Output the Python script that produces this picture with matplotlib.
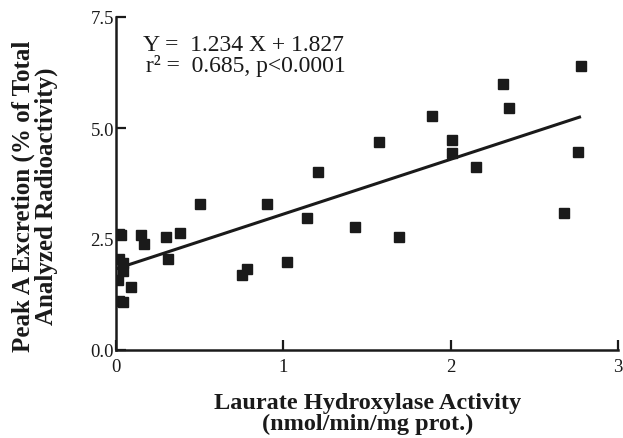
import matplotlib
matplotlib.use("Agg")
import matplotlib.pyplot as plt
import numpy as np

# Data
activity = [0.02, 0.03, 0.02, 0.04, 0.04, 0.01, 0.09, 0.02, 0.04,
            0.15, 0.17, 0.30, 0.38, 0.31,
            0.50, 0.75, 0.78, 0.90, 1.02, 1.14, 1.21, 1.43, 1.57, 1.69,
            1.89, 2.01, 2.01, 2.15, 2.31, 2.35, 2.68, 2.76, 2.78]
excretion = [2.62, 2.58, 2.05, 1.95, 1.78, 1.57, 1.42, 1.10, 1.07,
             2.59, 2.39, 2.54, 2.63, 2.05,
             3.29, 1.70, 1.82, 3.29, 1.99, 2.97, 4.01, 2.78, 4.68, 2.54,
             5.26, 4.73, 4.44, 4.13, 5.99, 5.45, 3.09, 4.47, 6.39]
slope = 1.234
intercept = 1.827
fit_x = [0.0, 2.77]
x_ticks = [0, 1, 2, 3]
y_ticks = [0.0, 2.5, 5.0, 7.5]

plt.rcParams['font.family'] = ['Liberation Serif', 'DejaVu Serif']

fig = plt.figure(figsize=(6.23, 4.39), dpi=100)
ax = fig.add_axes([116/623, 1-351/439, (618-116)/623, (351-18)/439])

ax.plot(activity, excretion, linestyle='none', marker='s', markersize=7,
        color='#1a1a1a')
fx = np.array(fit_x)
ax.plot(fx, slope*fx + intercept, color='#1a1a1a', lw=2.2)

ax.set_xlim(0, 3)
ax.set_ylim(0, 7.5)
ax.set_xticks(x_ticks)
ax.set_xticklabels([str(t) for t in x_ticks])
ax.set_yticks(y_ticks)
ax.set_yticklabels([f"{t:.1f}" for t in y_ticks])

for s in ['top', 'right']:
    ax.spines[s].set_visible(False)
for s in ['left', 'bottom']:
    ax.spines[s].set_linewidth(1.8)
    ax.spines[s].set_color('#1a1a1a')

ax.tick_params(axis='both', direction='in', length=7, width=1.6,
               labelsize=13.5, color='#1a1a1a', labelcolor='#1a1a1a')
ax.tick_params(axis='y', pad=1.5)
ax.tick_params(axis='x', pad=6)

ax.text(0.253, 0.885, "Y =  1.234 X + 1.827\n r\u00b2 =  0.685, p<0.0001",
        transform=ax.transAxes, ha='center', va='center', fontsize=17,
        color='#1a1a1a', linespacing=0.95, multialignment='center')

fig.text(368/623, 1-414/439, "Laurate Hydroxylase Activity\n(nmol/min/mg prot.)",
         ha='center', va='center', fontsize=17.5, fontweight='bold',
         color='#1a1a1a', linespacing=1.05)
fig.text(35/623, 1-196/439, "Peak A Excretion (% of Total\nAnalyzed Radioactivity)",
         ha='center', va='center', rotation=90, fontsize=18, fontweight='bold',
         color='#1a1a1a', linespacing=1.0, multialignment='center')

fig.savefig("out.png", dpi=100)
